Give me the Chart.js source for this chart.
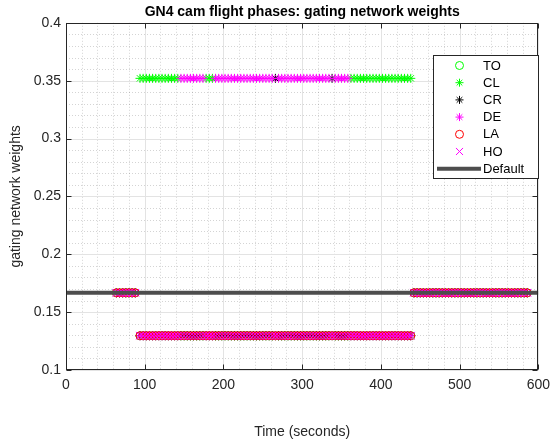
<!DOCTYPE html>
<html>
<head>
<meta charset="utf-8">
<script src="https://cdn.jsdelivr.net/npm/chart.js@4.4.0/dist/chart.umd.min.js"></script>
<style>
  html, body { margin: 0; padding: 0; background: #fff; }
</style>
</head>
<body>
<canvas id="gating" width="557" height="446"></canvas>
<script>
// time stamps (s) where all experts sit at the default weight
const earlyTimes = [64, 68, 72, 76, 80, 84, 88];
const lateTimes = [442, 446, 450, 454, 458, 462, 466, 470, 474, 478, 482, 486, 490, 494, 498, 502, 506, 510, 514,
  518, 522, 526, 530, 534, 538, 542, 546, 550, 554, 558, 562, 566, 570, 574, 578, 582, 586];

// time stamps where one phase wins the gating network
const clTimes = [94, 98, 102, 106, 110, 114, 118, 122, 126, 130, 134, 138, 142, 178, 182, 186,
  362, 366, 370, 374, 378, 382, 386, 390, 394, 398, 402, 406, 410, 414, 418, 422, 426, 430, 434, 438];
const deTimes = [146, 150, 154, 158, 162, 166, 170, 174, 190, 194, 198, 202, 206, 210, 214, 218, 222, 226, 230,
  234, 238, 242, 246, 250, 254, 258, 262, 270, 274, 278, 282, 286, 290, 294, 298, 302, 306, 310, 314, 318, 322,
  326, 330, 334, 342, 346, 350, 354, 358];
const crTimes = [266, 338];

const highWeight = 0.352;
const lowWeight = 0.1296;
const defaultWeight = 0.1667;
const defaultLine = [0, 600];

const phases = ['TO', 'CL', 'CR', 'DE', 'LA', 'HO'];
const winTimes = { TO: [], CL: clTimes, CR: crTimes, DE: deTimes, LA: [], HO: [] };

const xTicks = [0, 100, 200, 300, 400, 500, 600];
const yTicks = [0.1, 0.15, 0.2, 0.25, 0.3, 0.35, 0.4];

const activeTimes = clTimes.concat(deTimes, crTimes).sort((a, b) => a - b);

function phasePoints(p) {
  const pts = [];
  earlyTimes.forEach(t => pts.push({ x: t, y: defaultWeight }));
  activeTimes.forEach(t => pts.push({ x: t, y: winTimes[p].includes(t) ? highWeight : lowWeight }));
  lateTimes.forEach(t => pts.push({ x: t, y: defaultWeight }));
  return pts;
}

const look = {
  TO: { style: 'circle', color: '#00ff00', r: 4, order: 6 },
  CL: { style: 'star', color: '#00ff00', r: 4.5, order: 5 },
  CR: { style: 'star', color: '#000000', r: 4.5, order: 4 },
  DE: { style: 'star', color: '#ff00ff', r: 4.5, order: 3 },
  LA: { style: 'circle', color: '#ff0000', r: 4, order: 2 },
  HO: { style: 'crossRot', color: '#ff00ff', r: 5.5, order: 1 }
};
const lineColor = '#4d4d4d';
const axisColor = '#262626';

const datasets = phases.map(p => ({
  label: p,
  data: phasePoints(p),
  showLine: false,
  pointStyle: look[p].style,
  pointRadius: look[p].r,
  pointBorderColor: look[p].color,
  pointBackgroundColor: 'rgba(0,0,0,0)',
  pointBorderWidth: 1,
  order: look[p].order
}));
datasets.push({
  label: 'Default',
  type: 'line',
  data: defaultLine.map(t => ({ x: t, y: 1 / 6 })),
  borderColor: lineColor,
  borderWidth: 4,
  pointRadius: 0,
  order: 0
});

const matlabAxes = {
  id: 'matlabAxes',
  beforeDatasetsDraw(chart) {
    const { ctx, chartArea: a, scales: { x, y } } = chart;
    ctx.save();
    ctx.lineWidth = 1;
    ctx.strokeStyle = 'rgba(38,38,38,0.2)';
    ctx.setLineDash([1, 2]);
    ctx.beginPath();
    for (let v = 20; v < 600; v += 20) {
      if (v % 100 === 0) continue;
      const px = Math.round(x.getPixelForValue(v)) + 0.5;
      ctx.moveTo(px, a.top); ctx.lineTo(px, a.bottom);
    }
    for (let k = 11; k < 40; k++) {
      if (k % 5 === 0) continue;
      const py = Math.round(y.getPixelForValue(k / 100)) + 0.5;
      ctx.moveTo(a.left, py); ctx.lineTo(a.right, py);
    }
    ctx.stroke();
    ctx.setLineDash([]);
    ctx.strokeStyle = '#e3e3e3';
    ctx.beginPath();
    xTicks.forEach(v => {
      const px = Math.round(x.getPixelForValue(v)) + 0.5;
      ctx.moveTo(px, a.top); ctx.lineTo(px, a.bottom);
    });
    yTicks.forEach(v => {
      const py = Math.round(y.getPixelForValue(v)) + 0.5;
      ctx.moveTo(a.left, py); ctx.lineTo(a.right, py);
    });
    ctx.stroke();
    ctx.restore();
  },
  afterDatasetsDraw(chart) {
    const { ctx, chartArea: a, scales: { x, y } } = chart;
    ctx.save();
    ctx.strokeStyle = axisColor;
    ctx.lineWidth = 1;
    const L = Math.round(a.left) + 0.5, R = Math.round(a.right) - 0.5;
    const T = Math.round(a.top) + 0.5, B = Math.round(a.bottom) - 0.5;
    ctx.strokeRect(L, T, R - L, B - T);
    ctx.beginPath();
    xTicks.forEach(v => {
      const px = Math.round(x.getPixelForValue(v)) + 0.5;
      ctx.moveTo(px, B); ctx.lineTo(px, B - 5);
      ctx.moveTo(px, T); ctx.lineTo(px, T + 5);
    });
    yTicks.forEach(v => {
      const py = Math.round(y.getPixelForValue(v)) + 0.5;
      ctx.moveTo(L, py); ctx.lineTo(L + 5, py);
      ctx.moveTo(R, py); ctx.lineTo(R - 5, py);
    });
    ctx.stroke();
    ctx.restore();
  },
  afterDraw(chart) {
    // legend box, top right inside the axes
    const ctx = chart.ctx;
    const bx = 433.5, by = 55.5, bw = 105, bh = 123;
    ctx.save();
    ctx.fillStyle = '#fff';
    ctx.fillRect(bx, by, bw, bh);
    ctx.strokeStyle = axisColor;
    ctx.lineWidth = 1;
    ctx.strokeRect(bx, by, bw, bh);
    ctx.font = '13px "Liberation Sans", Arial, sans-serif';
    ctx.textBaseline = 'middle';
    ctx.fillStyle = '#000';
    const labels = phases.concat(['Default']);
    labels.forEach((lab, i) => {
      const yy = 65.5 + i * 17.2;
      if (lab === 'Default') {
        ctx.strokeStyle = lineColor;
        ctx.lineWidth = 4;
        ctx.beginPath();
        ctx.moveTo(437, yy); ctx.lineTo(481, yy);
        ctx.stroke();
      } else {
        ctx.strokeStyle = look[lab].color;
        ctx.fillStyle = 'rgba(0,0,0,0)';
        ctx.lineWidth = 1;
        Chart.helpers.drawPoint(ctx, { pointStyle: look[lab].style, radius: lab === 'HO' ? 5 : 4, rotation: 0, borderWidth: 1 }, 459.5, yy);
      }
      ctx.fillStyle = '#000';
      ctx.fillText(lab, 483, yy + 0.5);
    });
    ctx.restore();
  }
};

Chart.defaults.font.family = '"Liberation Sans", Arial, Helvetica, sans-serif';
Chart.defaults.color = axisColor;

new Chart(document.getElementById('gating'), {
  type: 'scatter',
  data: { datasets: datasets },
  options: {
    responsive: false,
    animation: false,
    layout: { padding: { top: 4, right: 17, left: 0, bottom: 0 } },
    plugins: {
      legend: { display: false },
      tooltip: { enabled: false },
      title: {
        display: true,
        text: 'GN4 cam flight phases: gating network weights',
        color: '#000',
        font: { size: 14, weight: 'bold' },
        padding: { top: 0, bottom: 2 },
        fullSize: false
      }
    },
    scales: {
      x: {
        type: 'linear',
        min: 0, max: 600,
        afterFit: s => { s.height = 76; },
        afterBuildTicks: s => { s.ticks = xTicks.map(v => ({ value: v })); },
        ticks: { font: { size: 14 }, color: axisColor, padding: 7, maxRotation: 0 },
        grid: { display: false, drawTicks: false },
        border: { display: false },
        title: { display: true, text: 'Time (seconds)', font: { size: 14 }, color: axisColor, padding: { top: 6, bottom: 5 } }
      },
      y: {
        type: 'linear',
        min: 0.1, max: 0.4,
        afterFit: s => { s.width = 66; },
        afterBuildTicks: s => { s.ticks = yTicks.map(v => ({ value: v })); },
        ticks: { font: { size: 14 }, color: axisColor, padding: 5, callback: v => String(parseFloat(v.toFixed(2))) },
        grid: { display: false, drawTicks: false },
        border: { display: false },
        title: { display: true, text: 'gating network weights', font: { size: 14 }, color: axisColor, padding: { top: 8, bottom: 4 } }
      }
    }
  },
  plugins: [matlabAxes]
});
</script>
</body>
</html>
